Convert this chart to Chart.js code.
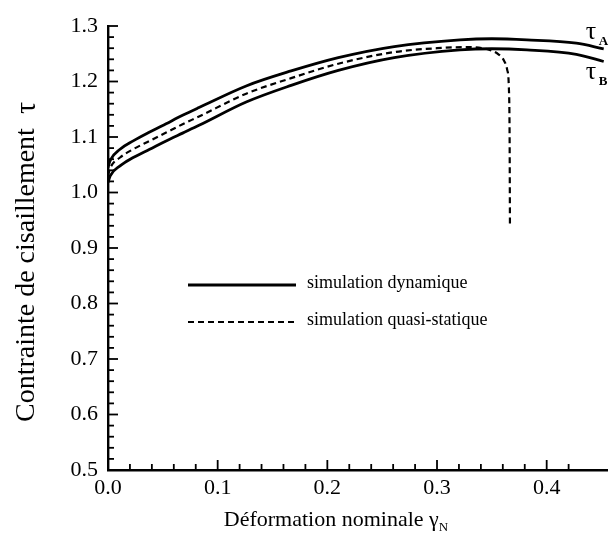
<!DOCTYPE html>
<html>
<head>
<meta charset="utf-8">
<script src="https://cdn.jsdelivr.net/npm/chart.js@4.4.0/dist/chart.umd.min.js"></script>
<style>
  html, body { margin: 0; padding: 0; background: #fff; }
  #wrap { width: 612px; height: 543px; }
</style>
</head>
<body>
<div id="wrap"><canvas id="chart"></canvas></div>
<script>
// valeurs
const gammaA = [0, 0.002, 0.011, 0.023, 0.038, 0.053, 0.068, 0.083, 0.126, 0.167, 0.21, 0.261, 0.321, 0.35, 0.382, 0.427, 0.452];
const tauA   = [1.045, 1.058, 1.078, 1.093, 1.109, 1.124, 1.139, 1.153, 1.192, 1.219, 1.243, 1.263, 1.275, 1.277, 1.275, 1.269, 1.259];

const gammaB = [0, 0.002, 0.011, 0.023, 0.038, 0.053, 0.068, 0.083, 0.126, 0.167, 0.21, 0.261, 0.321, 0.35, 0.382, 0.427, 0.452];
const tauB   = [1.018, 1.030, 1.048, 1.063, 1.078, 1.093, 1.107, 1.121, 1.163, 1.193, 1.220, 1.243, 1.257, 1.259, 1.257, 1.249, 1.236];

const gammaQS = [0, 0.002, 0.011, 0.023, 0.038, 0.053, 0.068, 0.083, 0.126, 0.167, 0.21, 0.261, 0.30, 0.33, 0.346, 0.356, 0.361, 0.364, 0.3655, 0.3662, 0.3665];
const tauQS   = [1.030, 1.044, 1.063, 1.078, 1.093, 1.108, 1.123, 1.137, 1.178, 1.206, 1.232, 1.253, 1.260, 1.262, 1.258, 1.249, 1.238, 1.221, 1.19, 1.10, 0.941];

const xLimits = [0, 0.455];
const yLimits = [0.5, 1.3];
const legendLabels = ['simulation dynamique', 'simulation quasi-statique'];

const SERIF = '"Liberation Serif", "DejaVu Serif", serif';

function pts(xs, ys) {
    return xs.map((v, i) => ({ x: v, y: ys[i] }));
}

function onStep(v, s) {
    const r = v / s;
    return Math.abs(r - Math.round(r)) < 1e-6;
}

// petites graduations vers l'intérieur, titres, légende et étiquettes tau
const decorations = {
    id: 'decorations',
    afterDraw(chart) {
        const { ctx, chartArea: a, scales: { x, y } } = chart;
        ctx.save();
        ctx.strokeStyle = '#000';
        ctx.fillStyle = '#000';
        ctx.lineWidth = 1.8;

        x.ticks.forEach(t => {
            if (!onStep(t.value, 0.02)) return;
            const px = x.getPixelForValue(t.value);
            const len = onStep(t.value, 0.1) ? 10 : 6;
            ctx.beginPath();
            ctx.moveTo(px, a.bottom);
            ctx.lineTo(px, a.bottom - len);
            ctx.stroke();
        });
        y.ticks.forEach(t => {
            if (!onStep(t.value, 0.02)) return;
            const py = y.getPixelForValue(t.value);
            const len = onStep(t.value, 0.1) ? 10 : 6;
            ctx.beginPath();
            ctx.moveTo(a.left, py);
            ctx.lineTo(a.left + len, py);
            ctx.stroke();
        });

        // titre axe x avec indice
        ctx.textBaseline = 'alphabetic';
        ctx.font = '22px ' + SERIF;
        const xt = 'Déformation nominale γ';
        const w1 = ctx.measureText(xt).width;
        ctx.font = '13px ' + SERIF;
        const w2 = ctx.measureText('N').width;
        const sx = 336 - (w1 + w2) / 2;
        ctx.font = '22px ' + SERIF;
        ctx.textAlign = 'left';
        ctx.fillText(xt, sx, 526);
        ctx.font = '13px ' + SERIF;
        ctx.fillText('N', sx + w1, 531);

        // titre axe y
        ctx.save();
        ctx.translate(27, 422);
        ctx.rotate(-Math.PI / 2);
        ctx.textAlign = 'left';
        ctx.textBaseline = 'middle';
        ctx.font = '28px ' + SERIF;
        const yt = 'Contrainte de cisaillement';
        const wy = ctx.measureText(yt).width;
        ctx.fillText(yt, 0, 0);
        ctx.font = '30px ' + SERIF;
        ctx.fillText('τ', wy + 14, 0);
        ctx.restore();

        // étiquettes tau A / tau B en bout de courbe
        const endA = chart.getDatasetMeta(0).data.at(-1);
        const endB = chart.getDatasetMeta(1).data.at(-1);
        ctx.textAlign = 'left';
        ctx.font = '26px ' + SERIF;
        ctx.fillText('τ', endA.x - 18, endA.y - 10);
        ctx.fillText('τ', endB.x - 18, endB.y + 17);
        ctx.font = 'bold 13px ' + SERIF;
        ctx.fillText('A', endA.x - 5, endA.y - 4);
        ctx.fillText('B', endB.x - 5, endB.y + 23);

        // légende
        const lx0 = 188, lx1 = 296, ly = [285, 322];
        [0, 2].forEach((di, k) => {
            const ds = chart.data.datasets[di];
            ctx.lineWidth = ds.borderWidth;
            ctx.setLineDash(ds.borderDash || []);
            ctx.beginPath();
            ctx.moveTo(lx0, ly[k]);
            ctx.lineTo(lx1, ly[k]);
            ctx.stroke();
            ctx.setLineDash([]);
            ctx.font = '18px ' + SERIF;
            ctx.textBaseline = 'middle';
            ctx.fillText(legendLabels[k], 307, ly[k] - 2);
        });
        ctx.restore();
    }
};

const common = {
    pointRadius: 0,
    fill: false,
    cubicInterpolationMode: 'monotone',
    borderColor: '#000'
};

new Chart(document.getElementById('chart'), {
    type: 'line',
    data: {
        datasets: [
            { ...common, label: 'tau A', data: pts(gammaA, tauA), borderWidth: 2.8 },
            { ...common, label: 'tau B', data: pts(gammaB, tauB), borderWidth: 2.8 },
            { ...common, label: legendLabels[1], data: pts(gammaQS, tauQS), borderWidth: 2.2, borderDash: [6, 4] }
        ]
    },
    options: {
        responsive: true,
        maintainAspectRatio: false,
        animation: false,
        layout: { padding: { top: 26, right: 2, bottom: 0, left: 0 } },
        plugins: { legend: { display: false }, tooltip: { enabled: false } },
        scales: {
            x: {
                type: 'linear',
                min: xLimits[0], max: xLimits[1],
                grid: { display: true, drawOnChartArea: false, drawTicks: false },
                border: { display: true, color: '#000', width: 2.4 },
                ticks: {
                    stepSize: 0.02, autoSkip: false, maxRotation: 0, padding: 5,
                    color: '#000', font: { family: SERIF, size: 22 },
                    callback: v => onStep(v, 0.1) ? v.toFixed(1) : ''
                },
                afterFit: s => { s.height = 73; }
            },
            y: {
                type: 'linear',
                min: yLimits[0], max: yLimits[1],
                grid: { display: true, drawOnChartArea: false, drawTicks: false },
                border: { display: true, color: '#000', width: 2.4 },
                ticks: {
                    stepSize: 0.02, autoSkip: false, padding: 10,
                    color: '#000', font: { family: SERIF, size: 22 },
                    callback: v => onStep(v, 0.1) ? v.toFixed(1) : ''
                },
                afterFit: s => { s.width = 108; }
            }
        }
    },
    plugins: [decorations]
});
</script>
</body>
</html>
